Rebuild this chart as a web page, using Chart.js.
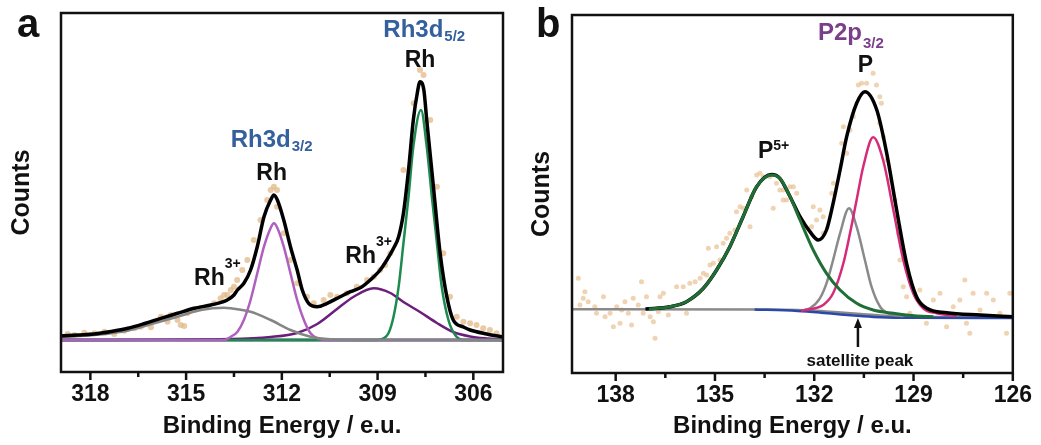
<!DOCTYPE html>
<html>
<head>
<meta charset="utf-8">
<title>XPS Rh 3d / P 2p</title>
<script src="https://cdn.jsdelivr.net/npm/chart.js@4.4.1/dist/chart.umd.min.js"></script>
<style>
  body { margin: 0; background: #fff; }
  .panel { position: absolute; top: 0; height: 445px; }
  #wrap-a { left: 0; width: 520px; }
  #wrap-b { left: 520px; width: 521px; }
</style>
</head>
<body>
<div class="panel" id="wrap-a"><canvas id="chart-a" width="520" height="445"></canvas></div>
<div class="panel" id="wrap-b"><canvas id="chart-b" width="521" height="445"></canvas></div>
<script>
// ---- panel a : Rh 3d (binding energy eV, counts a.u.) ----
const rhTicks = [318, 316.5, 315, 313.5, 312, 310.5, 309, 307.5, 306];

const rhTotal = [
  [318.92, 4], [318.4, 5], [317.88, 6], [317.35, 8.5], [316.83, 11.7], [316.3, 16.5],
  [315.79, 21.7], [315.27, 26.7], [314.75, 31.7], [314.23, 35], [313.71, 40], [313.5, 45],
  [313.39, 50], [313.19, 56.7], [312.98, 70], [312.77, 93.3], [312.56, 123.3], [312.35, 140],
  [312.25, 145], [312.14, 140], [311.94, 120], [311.73, 93.3], [311.52, 70], [311.36, 50],
  [311.16, 36.7], [310.89, 33.3], [310.58, 36.7], [310.17, 43.3], [309.85, 48.3], [309.5, 53],
  [309.23, 60], [308.92, 70], [308.71, 80], [308.5, 91.7], [308.34, 103.3], [308.19, 126.7],
  [308.03, 170], [307.88, 220], [307.75, 248], [307.67, 258.3], [307.55, 250], [307.46, 220],
  [307.25, 153.3], [307.04, 86.7], [306.83, 43.3], [306.63, 20], [306.31, 13], [306.1, 10],
  [305.58, 6], [305.07, 3],
];
const rhMetal32 = [
  [318.92, 0], [313.8, 0], [313.6, 3.3], [313.39, 8.3], [313.19, 20], [312.98, 40], [312.77, 66.7],
  [312.56, 93.3], [312.35, 112], [312.25, 116.7], [312.14, 112], [311.94, 93.3], [311.73, 66.7],
  [311.52, 40], [311.31, 20], [311.1, 6.7], [310.89, 1.7], [310.6, 0], [305.07, 0],
];
const rhOxide32 = [
  [318.92, 3], [317.88, 5], [316.83, 9.3], [316.0, 16.7], [315.27, 23.3], [314.54, 30],
  [313.81, 32.3], [313.6, 31.7], [312.98, 28.3], [312.35, 20], [311.73, 10], [311.1, 3.3],
  [310.48, 0.7], [309.5, 0], [305.07, 0],
];
const rhOxide52 = [
  [318.92, 0], [313.6, 1], [312.35, 3], [311.52, 7], [310.89, 16], [310.27, 31], [309.76, 43],
  [309.12, 51.7], [308.6, 47], [308.19, 38], [307.67, 28], [307.14, 17], [306.63, 8],
  [306.1, 3.5], [305.58, 1.5], [305.07, 0.5],
];
const rhMetal52 = [
  [318.92, 0], [309.0, 0], [308.81, 1.7], [308.66, 6.7], [308.5, 23.3], [308.34, 53.3],
  [308.19, 96.7], [308.03, 143.3], [307.88, 193.3], [307.64, 230], [307.46, 193.3], [307.3, 143.3],
  [307.14, 96.7], [306.99, 53.3], [306.78, 20], [306.57, 5], [306.31, 0], [305.07, 0],
];
const rhBackground = [[318.92, 0], [305.07, 0]];
const rhDots = [
  [318.71, 6], [318.5, 5], [318.19, 7.3], [317.87, 6.7], [317.56, 8.3], [317.25, 6], [316.94, 9.3],
  [316.62, 11.7], [316.42, 13.3], [316.1, 12.7], [315.79, 23.3], [315.58, 18.3], [315.48, 25],
  [315.27, 20], [315.17, 15], [315.06, 14], [314.96, 26.7], [314.75, 30], [314.54, 31.7],
  [314.33, 33.3], [314.12, 36.7], [313.92, 41.7], [313.81, 45], [313.71, 45], [313.6, 50],
  [313.5, 53.3], [313.4, 60], [313.24, 70], [313.08, 80], [312.88, 100], [312.67, 120],
  [312.46, 140], [312.35, 150], [312.25, 153.3], [312.15, 150], [312.15, 133.3], [311.94, 106.7],
  [311.73, 80], [311.52, 56.7], [311.21, 43.3], [311.0, 36.7], [310.69, 40], [310.48, 45],
  [310.27, 43.3], [309.96, 46.7], [309.65, 53.3], [309.33, 60], [309.12, 63.3], [308.92, 70],
  [308.76, 75], [308.6, 86.7], [308.19, 170], [307.87, 236.7], [307.67, 270], [307.56, 265],
  [307.35, 220], [307.14, 153.3], [306.94, 86.7], [306.73, 43.3], [306.52, 23.3], [306.31, 18.3],
  [306.1, 16.7], [305.9, 15], [305.69, 11.7], [305.48, 10], [305.27, 6.7],
];

// ---- panel b : P 2p ----
const pTicks = [138, 136.5, 135, 133.5, 132, 130.5, 129, 127.5, 126];

const pTotal = [
  [137.1, 64], [136.36, 66.3], [135.86, 71.3], [135.35, 84.7], [134.95, 103],
  [134.55, 126.3], [134.15, 156.3], [133.74, 186.3], [133.29, 198.5], [133.04, 194.7],
  [132.73, 176.3], [132.43, 156.3], [132.13, 141.3], [131.88, 133], [131.63, 143], [131.43, 169.7],
  [131.22, 203], [131.02, 236.3], [130.72, 269.7], [130.47, 281.3], [130.11, 263], [129.81, 219.7],
  [129.51, 163], [129.21, 109.7], [128.91, 76.3], [128.6, 64.7], [128.0, 60.3], [126.99, 58],
  [126.0, 56.3],
];
const pOxide = [
  [137.0, 64], [136.36, 66.3], [135.86, 71.3], [135.35, 84.7], [134.95, 103],
  [134.55, 126.3], [134.15, 156.3], [133.74, 186.3], [133.29, 198], [133.04, 194.7], [132.73, 176.3],
  [132.43, 153], [132.03, 123], [131.63, 99.7], [131.22, 83], [130.72, 69.7], [130.22, 63],
  [129.61, 59.7], [128.9, 57], [128.4, 56.3],
];
const pSatellite = [
  [132.3, 63], [132.13, 64.7], [131.83, 74.7], [131.63, 89.7], [131.43, 113],
  [131.22, 139.7], [130.95, 164.7], [130.72, 146.3], [130.47, 113], [130.27, 86.3], [130.01, 66.3],
  [129.71, 59], [129.3, 57],
];
const pElemental = [
  [132.4, 62.5], [132.13, 63.7], [131.73, 68], [131.43, 79.7], [131.12, 109.7],
  [130.92, 139.7], [130.72, 173], [130.52, 206.3], [130.22, 235.7], [129.92, 213], [129.61, 163],
  [129.31, 113], [129.01, 79.7], [128.71, 64.7], [128.3, 59.7], [127.7, 57],
];
const pBackground = [
  [139.32, 63.7], [133.5, 63.5], [132.5, 63], [131.8, 62], [131.2, 60.5], [130.6, 59],
  [130.0, 57.5], [129.3, 56.5], [128.0, 56], [126.0, 55.8],
];
const pSatelliteBase = [
  [133.8, 63.4], [133.5, 63.2], [132.5, 62], [131.8, 60.3], [131.2, 58.5], [130.6, 57],
  [130.0, 55.8], [129.0, 55.2], [126.0, 55],
];
const pDots = [
  [139.13, 94.7], [138.93, 81.3], [138.98, 74.7], [138.83, 71.3], [139.08, 68], [138.63, 66.3],
  [138.58, 59.7], [138.37, 76.3], [138.32, 56.3], [138.17, 59.7], [138.07, 46.3], [137.97, 66.3],
  [137.87, 49.7], [137.82, 63], [137.72, 71.3], [137.62, 59.7], [137.52, 48], [137.47, 74.7],
  [137.32, 68], [137.22, 91.3], [137.17, 59.7], [137.07, 76.3], [136.96, 56.3], [136.86, 51.3],
  [136.81, 34.7], [136.71, 61.3], [136.66, 76.3], [136.56, 79.7], [136.41, 58], [136.16, 86.3],
  [135.96, 86.3], [135.86, 59.7], [135.76, 89.7], [135.6, 91.3], [135.45, 94.7], [135.35, 99.7],
  [135.25, 98], [135.15, 108], [135.2, 124.7], [135.05, 109.7], [134.95, 126.3], [134.85, 113],
  [134.75, 129.7], [134.65, 134.7], [134.55, 139.7], [134.4, 143], [134.35, 161.3], [134.24, 166.3],
  [134.14, 164.7], [134.04, 183], [133.94, 146.3], [133.89, 176.3], [133.74, 198], [133.64, 199.7],
  [133.54, 196.3], [133.34, 196.3], [133.24, 164.7], [133.14, 189.7], [133.04, 183], [132.94, 173],
  [132.73, 186.3], [132.53, 179.7], [132.94, 183], [132.63, 186.3], [132.84, 173], [132.03, 166.3],
  [131.93, 153], [131.83, 163], [131.73, 156.3], [132.08, 146.3], [131.73, 139.7], [131.42, 189.7],
  [131.47, 179.7], [131.12, 246.3], [131.17, 229.7], [131.02, 219.7], [130.92, 243], [130.82, 256.3],
  [130.67, 288], [130.57, 289.7], [130.42, 289.7], [130.22, 299.7], [130.12, 288], [130.02, 276.3],
  [129.97, 269.7], [130.02, 249.7], [129.91, 236.3], [129.81, 213], [129.71, 193], [129.56, 173],
  [129.51, 156.3], [129.46, 139.7], [129.41, 113], [129.31, 86.3], [129.21, 76.3], [129.11, 59.7],
  [128.81, 83], [128.61, 49.7], [128.4, 73], [128.2, 79.7], [128.0, 46.3], [127.8, 66.3],
  [127.6, 73], [127.45, 93], [127.4, 49.7], [127.3, 39.7], [127.2, 79.7], [126.99, 63],
  [126.79, 79.7], [126.59, 73], [126.39, 59.7], [126.19, 39.7], [126.09, 79.7],
];

const FONT = 'Arial, "Liberation Sans", sans-serif';

function toPoints(pairs) {
  return pairs.map(([x, y]) => ({ x, y }));
}

function lineSet(label, pairs, color, width, order) {
  return {
    type: "line",
    label,
    data: toPoints(pairs),
    borderColor: color,
    borderWidth: width,
    pointRadius: 0,
    fill: false,
    cubicInterpolationMode: "monotone",
    order,
  };
}

function dotSet(pairs, color, radius) {
  return {
    type: "scatter",
    label: "data",
    data: toPoints(pairs),
    backgroundColor: color,
    borderWidth: 0,
    pointRadius: radius,
    order: 20,
  };
}

// frame round the plot plus outward ticks on the energy axis
const framePlugin = {
  id: "frame",
  afterDraw(chart) {
    const { ctx, chartArea, scales } = chart;
    ctx.save();
    ctx.strokeStyle = "#111";
    ctx.lineWidth = 2.5;
    ctx.strokeRect(chartArea.left, chartArea.top, chartArea.right - chartArea.left, chartArea.bottom - chartArea.top);
    scales.x.ticks.forEach(({ value }) => {
      const px = scales.x.getPixelForValue(value);
      const major = value % 3 === 0;
      ctx.beginPath();
      ctx.moveTo(px, chartArea.bottom);
      ctx.lineTo(px, chartArea.bottom + (major ? 8 : 5));
      ctx.stroke();
    });
    ctx.restore();
  },
};

function drawNote(ctx, note, x, y) {
  ctx.font = `bold ${note.size || 23}px ${FONT}`;
  ctx.fillStyle = note.color || "#111";
  ctx.textBaseline = "alphabetic";
  const w = ctx.measureText(note.text).width;
  const start = note.align === "center" ? x - w / 2 : x;
  ctx.textAlign = "left";
  ctx.fillText(note.text, start, y);
  if (note.sub) {
    ctx.font = `bold ${note.smallSize || 15}px ${FONT}`;
    ctx.fillText(note.sub, start + w + 1, y + note.shift);
  }
  if (note.sup) {
    ctx.font = `bold ${note.smallSize || 15}px ${FONT}`;
    ctx.fillText(note.sup, start + w, y + note.shift);
  }
}

function notesPlugin(notes, arrow, letter) {
  return {
    id: "notes",
    afterDatasetsDraw(chart) {
      const { ctx, scales } = chart;
      ctx.save();
      notes.forEach((note) => {
        drawNote(ctx, note, scales.x.getPixelForValue(note.x), scales.y.getPixelForValue(note.y));
      });
      if (arrow) {
        const ax = scales.x.getPixelForValue(arrow.x);
        const y0 = scales.y.getPixelForValue(arrow.from);
        const y1 = scales.y.getPixelForValue(arrow.to);
        ctx.strokeStyle = "#111";
        ctx.fillStyle = "#111";
        ctx.lineWidth = 2.5;
        ctx.beginPath();
        ctx.moveTo(ax, y0);
        ctx.lineTo(ax, y1 + 6);
        ctx.stroke();
        ctx.beginPath();
        ctx.moveTo(ax, y1);
        ctx.lineTo(ax - 4, y1 + 10);
        ctx.lineTo(ax + 4, y1 + 10);
        ctx.closePath();
        ctx.fill();
      }
      ctx.font = `bold 40px ${FONT}`;
      ctx.fillStyle = "#111";
      ctx.textAlign = "left";
      ctx.textBaseline = "alphabetic";
      ctx.fillText(letter.text, letter.left, letter.baseline);
      ctx.restore();
    },
  };
}

function makeChart(canvasId, cfg) {
  return new Chart(document.getElementById(canvasId), {
    type: "line",
    data: { datasets: cfg.datasets },
    options: {
      responsive: false,
      animation: false,
      layout: { padding: { top: cfg.padTop, right: cfg.padRight, left: 0, bottom: 0 } },
      plugins: { legend: { display: false }, tooltip: { enabled: false } },
      scales: {
        x: {
          type: "linear",
          reverse: true,
          min: cfg.xMin,
          max: cfg.xMax,
          afterBuildTicks: (scale) => {
            scale.ticks = cfg.ticks.map((value) => ({ value }));
          },
          afterFit: (scale) => {
            scale.height = cfg.axisHeight;
          },
          grid: { display: false, drawTicks: false },
          border: { display: false },
          ticks: {
            autoSkip: false,
            maxRotation: 0,
            padding: 9,
            color: "#111",
            font: { family: FONT, weight: "bold", size: 23 },
            callback: (value) => (value % 3 === 0 ? String(value) : ""),
          },
          title: {
            display: true,
            text: "Binding Energy / e.u.",
            color: "#111",
            font: { family: FONT, weight: "bold", size: 24 },
            padding: { top: 0, bottom: 4 },
          },
        },
        y: {
          min: cfg.yMin,
          max: cfg.yMax,
          afterFit: (scale) => {
            scale.width = cfg.axisWidth;
          },
          grid: { display: false },
          border: { display: false },
          ticks: { display: false },
          title: {
            display: true,
            text: "Counts",
            color: "#111",
            font: { family: FONT, weight: "bold", size: 25 },
            padding: { top: 7, bottom: 0 },
          },
        },
      },
    },
    plugins: [framePlugin, notesPlugin(cfg.notes, cfg.arrow, cfg.letter)],
  });
}

makeChart("chart-a", {
  xMin: 305.07, xMax: 318.92, yMin: -32, yMax: 327,
  ticks: rhTicks, padTop: 13, padRight: 17, axisHeight: 73, axisWidth: 61,
  datasets: [
    dotSet(rhDots, "rgba(226, 184, 134, 0.75)", 3),
    lineSet("background", rhBackground, "#85859a", 3.5, 9),
    lineSet("Rh3+ 3d5/2", rhOxide52, "#6b1f7b", 2.5, 5),
    lineSet("Rh 3d5/2", rhMetal52, "#1d8a50", 2.5, 4),
    lineSet("Rh 3d3/2", rhMetal32, "#b05fbf", 2.5, 3),
    lineSet("Rh3+ 3d3/2", rhOxide32, "#858585", 2.5, 2),
    lineSet("envelope", rhTotal, "#000", 3.5, 1),
  ],
  notes: [
    { text: "Rh3d", sub: "5/2", x: 308.82, y: 303, color: "#34609e", size: 24, shift: 4 },
    { text: "Rh", x: 307.67, y: 273, align: "center" },
    { text: "Rh3d", sub: "3/2", x: 313.6, y: 193, color: "#34609e", size: 24, shift: 4 },
    { text: "Rh", x: 312.32, y: 160, align: "center" },
    { text: "Rh", sup: "3+", x: 314.75, y: 55, shift: -17, smallSize: 14 },
    { text: "Rh", sup: "3+", x: 310.01, y: 77, shift: -17, smallSize: 14 },
  ],
  letter: { text: "a", left: 17, baseline: 37 },
});

makeChart("chart-b", {
  xMin: 126.0, xMax: 139.32, yMin: 0, yMax: 358,
  ticks: pTicks, padTop: 15, padRight: 28, axisHeight: 72, axisWidth: 52,
  datasets: [
    dotSet(pDots, "rgba(232, 192, 146, 0.7)", 2.5),
    lineSet("background", pBackground, "#8a8a8a", 2.5, 9),
    lineSet("satellite base", pSatelliteBase, "#2c48a8", 2.5, 8),
    lineSet("satellite", pSatellite, "#8a8a8a", 2.5, 5),
    lineSet("P", pElemental, "#d42c78", 2.5, 4),
    lineSet("envelope", pTotal, "#000", 3.5, 3),
    lineSet("P5+", pOxide, "#1f6e35", 3, 1),
  ],
  notes: [
    { text: "P2p", sub: "3/2", x: 131.89, y: 333, color: "#7a3f8a", size: 24, shift: 8 },
    { text: "P", x: 130.45, y: 301, align: "center" },
    { text: "P", sup: "5+", x: 133.7, y: 215, shift: -8, smallSize: 14 },
    { text: "satellite peak", x: 130.62, y: 7, align: "center", size: 17 },
  ],
  arrow: { x: 130.68, from: 26, to: 55 },
  letter: { text: "b", left: 16, baseline: 37 },
});
</script>
</body>
</html>
